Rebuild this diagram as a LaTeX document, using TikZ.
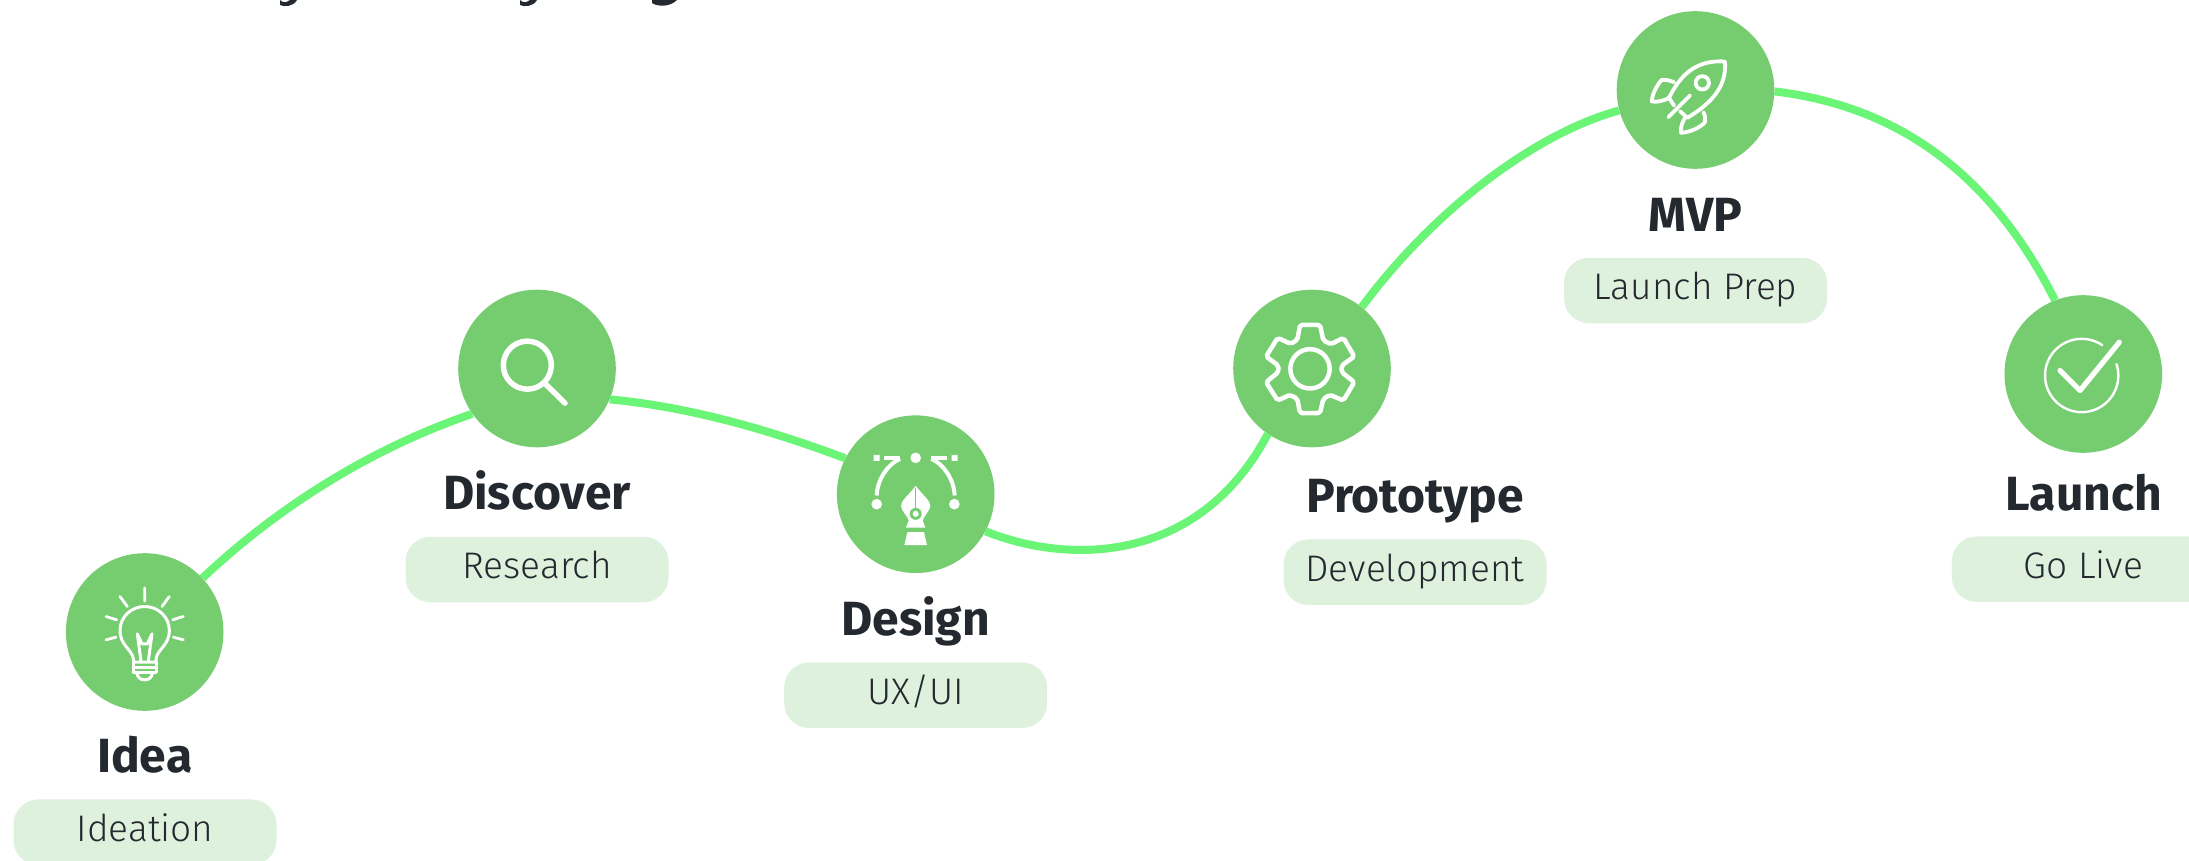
\documentclass[tikz,border=0pt]{standalone}
\usepackage{fontspec}
\setmainfont{Fira Sans}
\newfontfamily\titlefont{Fira Sans}[UprightFont=* Bold,BoldFont=* Bold]
\newfontfamily\subfont{Fira Sans}[UprightFont=* Light,BoldFont=* Medium]
\definecolor{stepgreen}{HTML}{75CD6F}
\definecolor{linegreen}{HTML}{6AF577}
\definecolor{pillgreen}{HTML}{DEF1DD}
\definecolor{inkdark}{HTML}{23292F}
\tikzset{
  x=1pt,y=-1pt,
  stepcircle/.style={circle,fill=stepgreen,inner sep=0pt,minimum size=157.6pt},
  steptitle/.style={anchor=base,inner sep=0pt,text=inkdark,font=\titlefont\fontsize{48}{52}\selectfont},
  pill/.style={rounded corners=25pt,fill=pillgreen,inner sep=0pt,minimum width=263pt,minimum height=65.5pt,
     text height=27pt,text depth=9pt,text=inkdark,font=\subfont\fontsize{37}{42}\selectfont},
  trail/.style={draw=linegreen,line width=8pt},
  iconline/.style={draw=white,line width=#1,line cap=round,line join=round},
  iconline/.default=4pt,
  zoomed/.style={shift={#1},x=0.33333pt,y=-0.33333pt},
}
\begin{document}
\begin{tikzpicture}
\clip (0,0) rectangle (2189,861);
\fill[white] (0,0) rectangle (2189,861);
% cut-off heading: only descenders remain at the top edge
\begin{scope}[fill=inkdark]
\fill (280,0) .. controls (283,3) and (286,3) .. (290,0) -- (297,0) .. controls (293,7) and (284,7) .. (280,5) -- cycle;
\fill (520,0) .. controls (523,3) and (526,3) .. (530,0) -- (537,0) .. controls (533,7) and (524,7) .. (520,5) -- cycle;
\fill (652,0) -- (677,0) .. controls (670,7) and (658,7) .. (652,3) -- cycle;
\end{scope}
% circles
\node[stepcircle] (idea) at (144.7,632) {};
\node[stepcircle] (discover) at (537,368.5) {};
\node[stepcircle] (design) at (915.7,494.2) {};
\node[stepcircle] (prototype) at (1312,368.5) {};
\node[stepcircle] (mvp) at (1695.5,90) {};
\node[stepcircle] (launch) at (2083.3,374) {};
% connectors
\draw[trail] (idea.43) .. controls (283,502) and (378,446) .. (discover.215);
\draw[trail] (discover.-23.6) .. controls (690,407) and (770,430) .. (design.153.8);
\draw[trail] (design.-28.8) .. controls (1072,566) and (1200,562) .. (prototype.236);
\draw[trail] (prototype.51.7) .. controls (1430,215) and (1530,135) .. (mvp.195.2);
\draw[trail] (mvp.-1.6) .. controls (1895,106) and (1989,170) .. (launch.111.7);
% titles
\node[steptitle] (t1) at (144.7,772.5) {Idea};
\node[steptitle] (t2) at (537,509.5) {Discover};
\node[steptitle] (t3) at (915.7,635) {Design};
\node[steptitle] (t4) at (1415,512) {Prototype};
\node[steptitle] (t5) at (1695.5,231) {MVP};
\node[steptitle] (t6) at (2083.8,510) {Launch};
% pills
\node[pill] (p1) at (145,832.2) {Ideation};
\node[pill] (p2) at (537,569.5) {Research};
\node[pill] (p3) at (915.7,695.2) {UX/UI};
\node[pill] (p4) at (1415,572.2) {Development};
\node[pill] (p5) at (1695.5,290.5) {Launch Prep};
\node[pill] (p6) at (2083.3,569.2) {Go Live};
% bulb
\begin{scope}[zoomed={(40,530.5)}]
\draw[iconline=2.8pt] (314,172)--(314,212) (240,198)--(262,228) (388,198)--(366,228)
  (198,258)--(230,268) (430,258)--(398,268) (198,328)--(228,320) (430,328)--(400,320);
\draw[iconline=3pt] (280,395) -- (280,385) .. controls (275,355) and (240,345) .. (240,300)
  .. controls (240,258) and (275,228) .. (314,228) .. controls (353,228) and (388,258) .. (388,300)
  .. controls (388,345) and (353,355) .. (348,385) -- (348,395) -- cycle;
\draw[iconline=3pt] (280,412)--(348,412) (348,395)--(348,425) (280,395)--(280,425)
  (280,425)--(348,425);
\draw[iconline=3pt] (290,425) .. controls (292,442) and (302,448) .. (314,448) .. controls (326,448) and (336,442) .. (338,425);
\draw[iconline=3pt] (303,392)--(292,310)--(306,340)--(322,340)--(336,310)--(325,392);
\end{scope}
% magnifier
\begin{scope}[zoomed={(440,270.5)}]
\draw[iconline=5.5pt] (262,284) circle[radius=72];
\draw[iconline=5.5pt] (318,342)--(375,398);
\end{scope}
% pen tool
\begin{scope}[zoomed={(820,400.5)}]
\fill[white] (287,172) circle[radius=16] (170,311) circle[radius=16] (403,311) circle[radius=16];
\fill[white] (161,163) rectangle (179,181) (395,163) rectangle (413,181);
\draw[draw=white,line width=4pt] (192,172)--(240,172) (382,172)--(334,172);
\draw[draw=white,line width=4pt] (170,285) .. controls (172,235) and (205,190) .. (240,175);
\draw[draw=white,line width=4pt] (404,285) .. controls (402,235) and (369,190) .. (334,175);
\fill[white] (287,256) .. controls (265,285) and (243,300) .. (243,316) .. controls (243,330) and (262,345) .. (266,360)
  -- (258,381) -- (316,381) -- (308,360) .. controls (312,345) and (331,330) .. (331,316) .. controls (331,300) and (309,285) .. (287,256) -- cycle;
\fill[white] (262,395) -- (312,395) -- (321,434) -- (253,434) -- cycle;
\draw[stepgreen,line width=1.6pt] (287,262)--(287,325);
\fill[stepgreen] (287,340) circle[radius=18];
\fill[white] (287,340) circle[radius=9];
\end{scope}
% gear
\begin{scope}[zoomed={(1220,280.5)}]
\draw[iconline=4.5pt] (270,265) circle[radius=59];
\draw[iconline=4.5pt,rounded corners=2pt] (240,133)--(300,133)--(310,180)--(333,191)--(370,172)--(403,228)--(365,255)--(365,275)--(403,305)
 --(370,360)--(330,343)--(310,355)--(300,398)--(240,398)--(232,355)--(210,343)--(173,360)--(138,305)--(175,275)--(175,255)--(138,228)--(173,172)--(212,190)--(232,178)--cycle;
\end{scope}
% rocket
\begin{scope}[zoomed={(1600,0.5)}]
\draw[iconline=3.8pt] (207,292) .. controls (245,215) and (295,178) .. (375,183) .. controls (380,255) and (340,305) .. (262,352);
\draw[iconline=3.8pt] (207,292)--(222,315) (262,352)--(240,332);
\draw[iconline=3.8pt] (205,350)--(270,285);
\draw[iconline=3.8pt] (307,247) circle[radius=20];
\draw[iconline=3.8pt] (222,245) .. controls (205,238) and (195,238) .. (185,238) .. controls (170,255) and (157,280) .. (155,303) .. controls (175,306) and (192,300) .. (207,292);
\draw[iconline=3.8pt] (310,335) .. controls (316,345) and (316,355) .. (315,365) .. controls (300,382) and (270,395) .. (243,397) .. controls (241,380) and (247,365) .. (255,352);
\end{scope}
% check
\begin{scope}[zoomed={(1990,280.5)}]
\draw[draw=white,line width=2.4pt,line cap=round] plot[domain=-18:304,samples=70] ({275+110*cos(\x)},{285+110*sin(\x)});
\draw[iconline=5.2pt] (210,270)--(270,330)--(388,185);
\end{scope}
\end{tikzpicture}
\end{document}
